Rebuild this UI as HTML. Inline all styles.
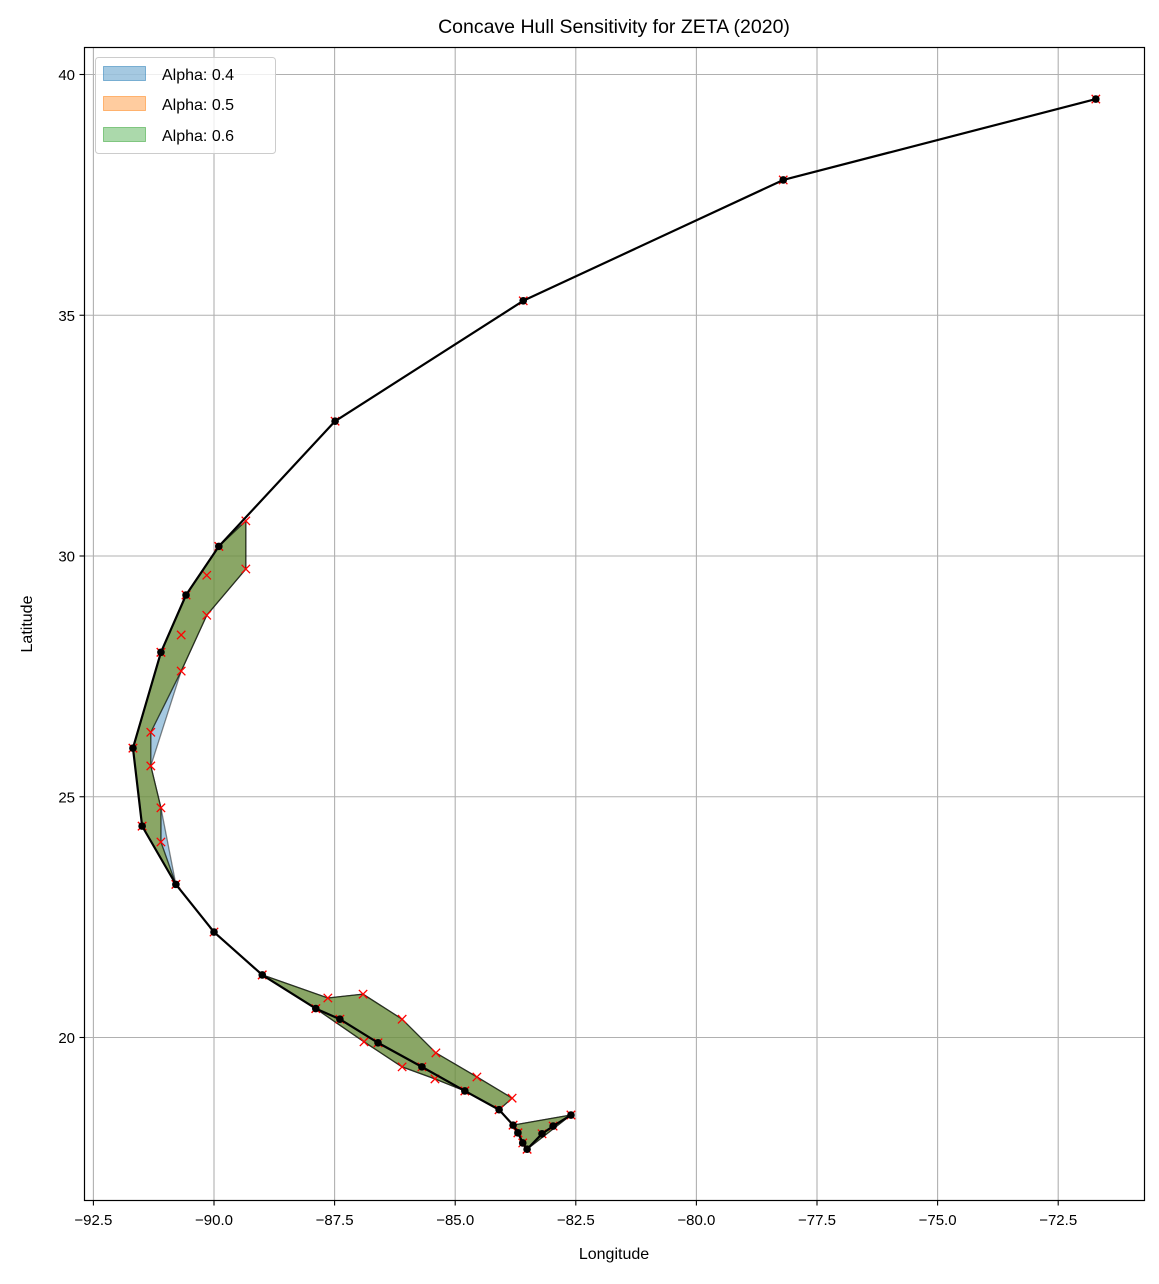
<!DOCTYPE html>
<html><head><meta charset="utf-8"><style>
body{margin:0;background:#fff;}
svg text{font-family:"Liberation Sans","DejaVu Sans",sans-serif;fill:#000;}
</style></head><body>
<svg id="chart" width="1159" height="1279" xmlns="http://www.w3.org/2000/svg">
<rect x="0" y="0" width="1159" height="1279" fill="#fff"/>
<g id="grid"></g>
<g id="hulls"></g>
<g id="track"></g>
<rect x="84.5" y="47.5" width="1060" height="1153" fill="none" stroke="#000" stroke-width="1.2"/>
<g id="ticks"></g>
<text x="614" y="33" font-size="19.5" text-anchor="middle">Concave Hull Sensitivity for ZETA (2020)</text>
<text x="614" y="1259" font-size="16" text-anchor="middle">Longitude</text>
<text x="32" y="624" font-size="16" text-anchor="middle" transform="rotate(-90 32 624)">Latitude</text>
<g>
<rect x="95.5" y="57.5" width="180" height="96" rx="3" fill="#fff" fill-opacity="0.8" stroke="#ccc"/>
<g><rect x="103.5" y="66.5" width="42" height="14" fill="#1f77b4" fill-opacity="0.4" stroke="#1f77b4" stroke-opacity="0.5"/><text x="162" y="80" font-size="16">Alpha: 0.4</text></g>
<g><rect x="103.5" y="96.5" width="42" height="14" fill="#ff7f0e" fill-opacity="0.4" stroke="#ff7f0e" stroke-opacity="0.5"/><text x="162" y="110" font-size="16">Alpha: 0.5</text></g>
<g><rect x="103.5" y="127.5" width="42" height="14" fill="#2ca02c" fill-opacity="0.4" stroke="#2ca02c" stroke-opacity="0.5"/><text x="162" y="141" font-size="16">Alpha: 0.6</text></g>
</g>
</svg>
<script>
const xTicks=[-92.5,-90,-87.5,-85,-82.5,-80,-77.5,-75,-72.5];
const xTickLabels=["\u221292.5","\u221290.0","\u221287.5","\u221285.0","\u221282.5","\u221280.0","\u221277.5","\u221275.0","\u221272.5"];
const yTicks=[20,25,30,35,40];
const yTickLabels=["20","25","30","35","40"];
const trackLon=[-71.72,-78.2,-83.59,-87.49,-89.9,-90.58,-91.1,-91.68,-91.49,-90.79,-90.0,-89.0,-87.89,-87.39,-86.6,-85.69,-84.8,-84.09,-83.8,-83.7,-83.6,-83.51,-83.2,-82.97,-82.6];
const trackLat=[39.49,37.81,35.3,32.8,30.2,29.19,28.0,26.01,24.39,23.18,22.19,21.3,20.6,20.38,19.89,19.39,18.89,18.5,18.18,18.02,17.81,17.68,18.0,18.16,18.39];
const upperHullLon04=[-89.34,-89.34,-90.15,-90.68,-91.31,-91.1,-90.79,-91.49,-91.68,-91.1,-90.58,-89.9];
const upperHullLat04=[30.73,29.73,28.77,27.61,25.64,24.77,23.18,24.39,26.01,28.0,29.19,30.2];
const upperHullLon06=[-89.34,-89.34,-90.15,-90.68,-91.31,-91.31,-91.1,-91.1,-90.79,-91.49,-91.68,-91.1,-90.58,-89.9];
const upperHullLat06=[30.73,29.73,28.77,27.61,26.34,25.64,24.77,24.06,23.18,24.39,26.01,28.0,29.19,30.2];
const lowerHullLon=[-89.0,-87.64,-86.91,-86.1,-85.4,-84.55,-83.82,-84.09,-84.8,-85.42,-86.1,-86.89,-87.89];
const lowerHullLat=[21.3,20.82,20.9,20.38,19.68,19.18,18.74,18.5,18.89,19.14,19.39,19.91,20.6];
const tipHullLon=[-83.8,-82.6,-83.51,-83.7];
const tipHullLat=[18.18,18.39,17.68,18.02];
const extraLon=[-90.15,-90.68];
const extraLat=[29.6,28.36];

const NS="http://www.w3.org/2000/svg";
const X=v=>214+(v+90)*48.24;
const Y=v=>556-(v-30)*48.15;
function mk(tag,attrs,parent){const e=document.createElementNS(NS,tag);for(const k in attrs)e.setAttribute(k,attrs[k]);parent.appendChild(e);return e;}
const grid=document.getElementById('grid'),ticks=document.getElementById('ticks');
xTicks.forEach((t,i)=>{
  const g=mk('line',{x1:X(t),x2:X(t),y1:47.5,y2:1200.5,stroke:'#b0b0b0','stroke-width':1.1},grid);
  
  
  const tk=mk('line',{x1:X(t),x2:X(t),y1:1200.5,y2:1205.5,stroke:'#000','stroke-width':1.1},ticks);
  
  
  const tx=mk('text',{x:X(t),y:1225,'font-size':15,'text-anchor':'middle'},ticks);
  tx.textContent=xTickLabels[i];
  
  
});
yTicks.forEach((t,i)=>{
  const g=mk('line',{x1:84.5,x2:1144.5,y1:Y(t),y2:Y(t),stroke:'#b0b0b0','stroke-width':1.1},grid);
  
  
  const tk=mk('line',{x1:79.5,x2:84.5,y1:Y(t),y2:Y(t),stroke:'#000','stroke-width':1.1},ticks);
  
  
  const tx=mk('text',{x:75,y:Y(t)+5.5,'font-size':15,'text-anchor':'end'},ticks);
  tx.textContent=yTickLabels[i];
  
  
});
const hulls=document.getElementById('hulls');
function poly(lons,lats,color,name){
  const pts=lons.map((v,i)=>X(v)+','+Y(lats[i])).join(' ');
  const p=mk('polygon',{points:pts,fill:color,'fill-opacity':0.4,stroke:'#000','stroke-opacity':0.45,'stroke-width':1.3},hulls);
  
  
}
[['#1f77b4','0.4'],['#ff7f0e','0.5'],['#2ca02c','0.6']].forEach(([c,a])=>{
  if(a==='0.4')poly(upperHullLon04,upperHullLat04,c,'hull-upper-alpha-'+a);
  else poly(upperHullLon06,upperHullLat06,c,'hull-upper-alpha-'+a);
  poly(lowerHullLon,lowerHullLat,c,'hull-lower-alpha-'+a);
  poly(tipHullLon,tipHullLat,c,'hull-tip-alpha-'+a);
});
const track=document.getElementById('track');
function cross(lon,lat){
  const x=X(lon),y=Y(lat),s=4.2;
  const p=mk('path',{d:`M${x-s},${y-s}L${x+s},${y+s}M${x-s},${y+s}L${x+s},${y-s}`,stroke:'#ff0000','stroke-width':1.3,fill:'none'},track);
  
  
}
const allLon=[].concat(upperHullLon06,lowerHullLon,tipHullLon,extraLon,trackLon);
const allLat=[].concat(upperHullLat06,lowerHullLat,tipHullLat,extraLat,trackLat);
allLon.forEach((v,i)=>cross(v,allLat[i]));
const line=mk('polyline',{points:trackLon.map((v,i)=>X(v)+','+Y(trackLat[i])).join(' '),fill:'none',stroke:'#000','stroke-width':2.2,'stroke-linejoin':'round'},track);


trackLon.forEach((v,i)=>{
  const c=mk('circle',{cx:X(v),cy:Y(trackLat[i]),r:3.8,fill:'#000'},track);
  
  
});
</script>
</body></html>
